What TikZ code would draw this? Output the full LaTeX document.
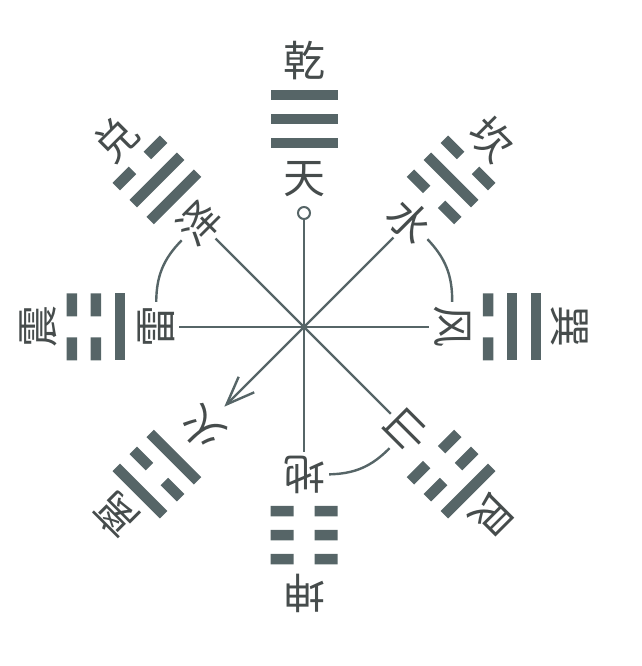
\documentclass[tikz,border=0pt]{standalone}
\usepackage{fontspec}
\newfontfamily\cjk{Noto Sans CJK SC}
\usetikzlibrary{arrows.meta}
\definecolor{guagray}{RGB}{86,101,103}
\definecolor{inkgray}{RGB}{70,76,76}

% one line of a trigram: 1 = whole, 0 = broken
\newcommand{\yao}[2]{%
  \ifnum#1=1
    \fill[guagray] (-33.5,#2-5.25) rectangle (33.5,#2+5.25);
  \else
    \fill[guagray] (-33.5,#2-5.25) rectangle (-10.5,#2+5.25)
                   (10.5,#2-5.25) rectangle (33.5,#2+5.25);
  \fi}
% trigram at an angle, lines given from inside out
\newcommand{\gua}[4]{%
  \begin{scope}[shift={(#1:208)}, rotate=#1-90]
    \yao{#2}{-24}\yao{#3}{0}\yao{#4}{24}
  \end{scope}}

\begin{document}
\begin{tikzpicture}[x=1pt, y=1pt,
    ming/.style={font=\cjk\fontsize{42}{42}\selectfont, text=inkgray, inner sep=2pt},
    xiang/.style={font=\cjk\fontsize{42}{42}\selectfont, text=inkgray, inner sep=4pt},
    ray/.style={draw=guagray, line width=2.4pt},
    knob/.style={circle, draw=guagray, line width=2pt, fill=white, minimum size=12pt, inner sep=0pt}]
    \useasboundingbox (-304,-339) rectangle (337,327);

    \coordinate (o) at (0,0);

    % names of the trigrams
    \node[ming, rotate=0]    (qian) at (90:266)  {乾};
    \node[ming, rotate=45]   (dui)  at (135:266) {兑};
    \node[ming, rotate=90]   (zhen) at (180:266) {震};
    \node[ming, rotate=135]  (li)   at (225:266) {离};
    \node[ming, rotate=180]  (kun)  at (270:266) {坤};
    \node[ming, rotate=-135] (gen)  at (315:266) {艮};
    \node[ming, rotate=-90]  (xun)  at (0:266)   {巽};
    \node[ming, rotate=-45]  (kan)  at (45:266)  {坎};

    % trigrams
    \gua{90}{1}{1}{1}
    \gua{135}{1}{1}{0}
    \gua{180}{1}{0}{0}
    \gua{225}{1}{0}{1}
    \gua{270}{0}{0}{0}
    \gua{315}{0}{0}{1}
    \gua{0}{0}{1}{1}
    \gua{45}{0}{1}{0}

    % images
    \node[xiang, rotate=0]    (tian) at (90:148)  {天};
    \node[xiang, rotate=45]   (ze)   at (135:148) {泽};
    \node[xiang, rotate=90]   (lei)  at (180:148) {雷};
    \node[xiang, rotate=135]  (huo)  at (225:144) {火};
    \node[xiang, rotate=180]  (di)   at (270:148) {地};
    \node[xiang, rotate=-135] (shan) at (315:146) {山};
    \node[xiang, rotate=-90]  (feng) at (0:148)   {风};
    \node[xiang, rotate=-45]  (shui) at (45:150)  {水};
    \node[knob] (knob) at (90:114) {};

    \draw[ray] (o) -- (knob);
    \draw[ray] (o) -- (ze);
    \draw[ray] (o) -- (lei);
    \draw[ray, -{Straight Barb[length=28pt, width=22pt]}, shorten >=8pt] (o) -- (huo);
    \draw[ray] (o) -- (di);
    \draw[ray] (o) -- (shan);
    \draw[ray] (o) -- (feng);
    \draw[ray] (o) -- (shui);

    \draw[ray] (ze) to[bend right=22] (lei);
    \draw[ray] (shui) to[bend left=22] (feng);
    \draw[ray] (shan) to[bend left=22] (di);
\end{tikzpicture}
\end{document}
